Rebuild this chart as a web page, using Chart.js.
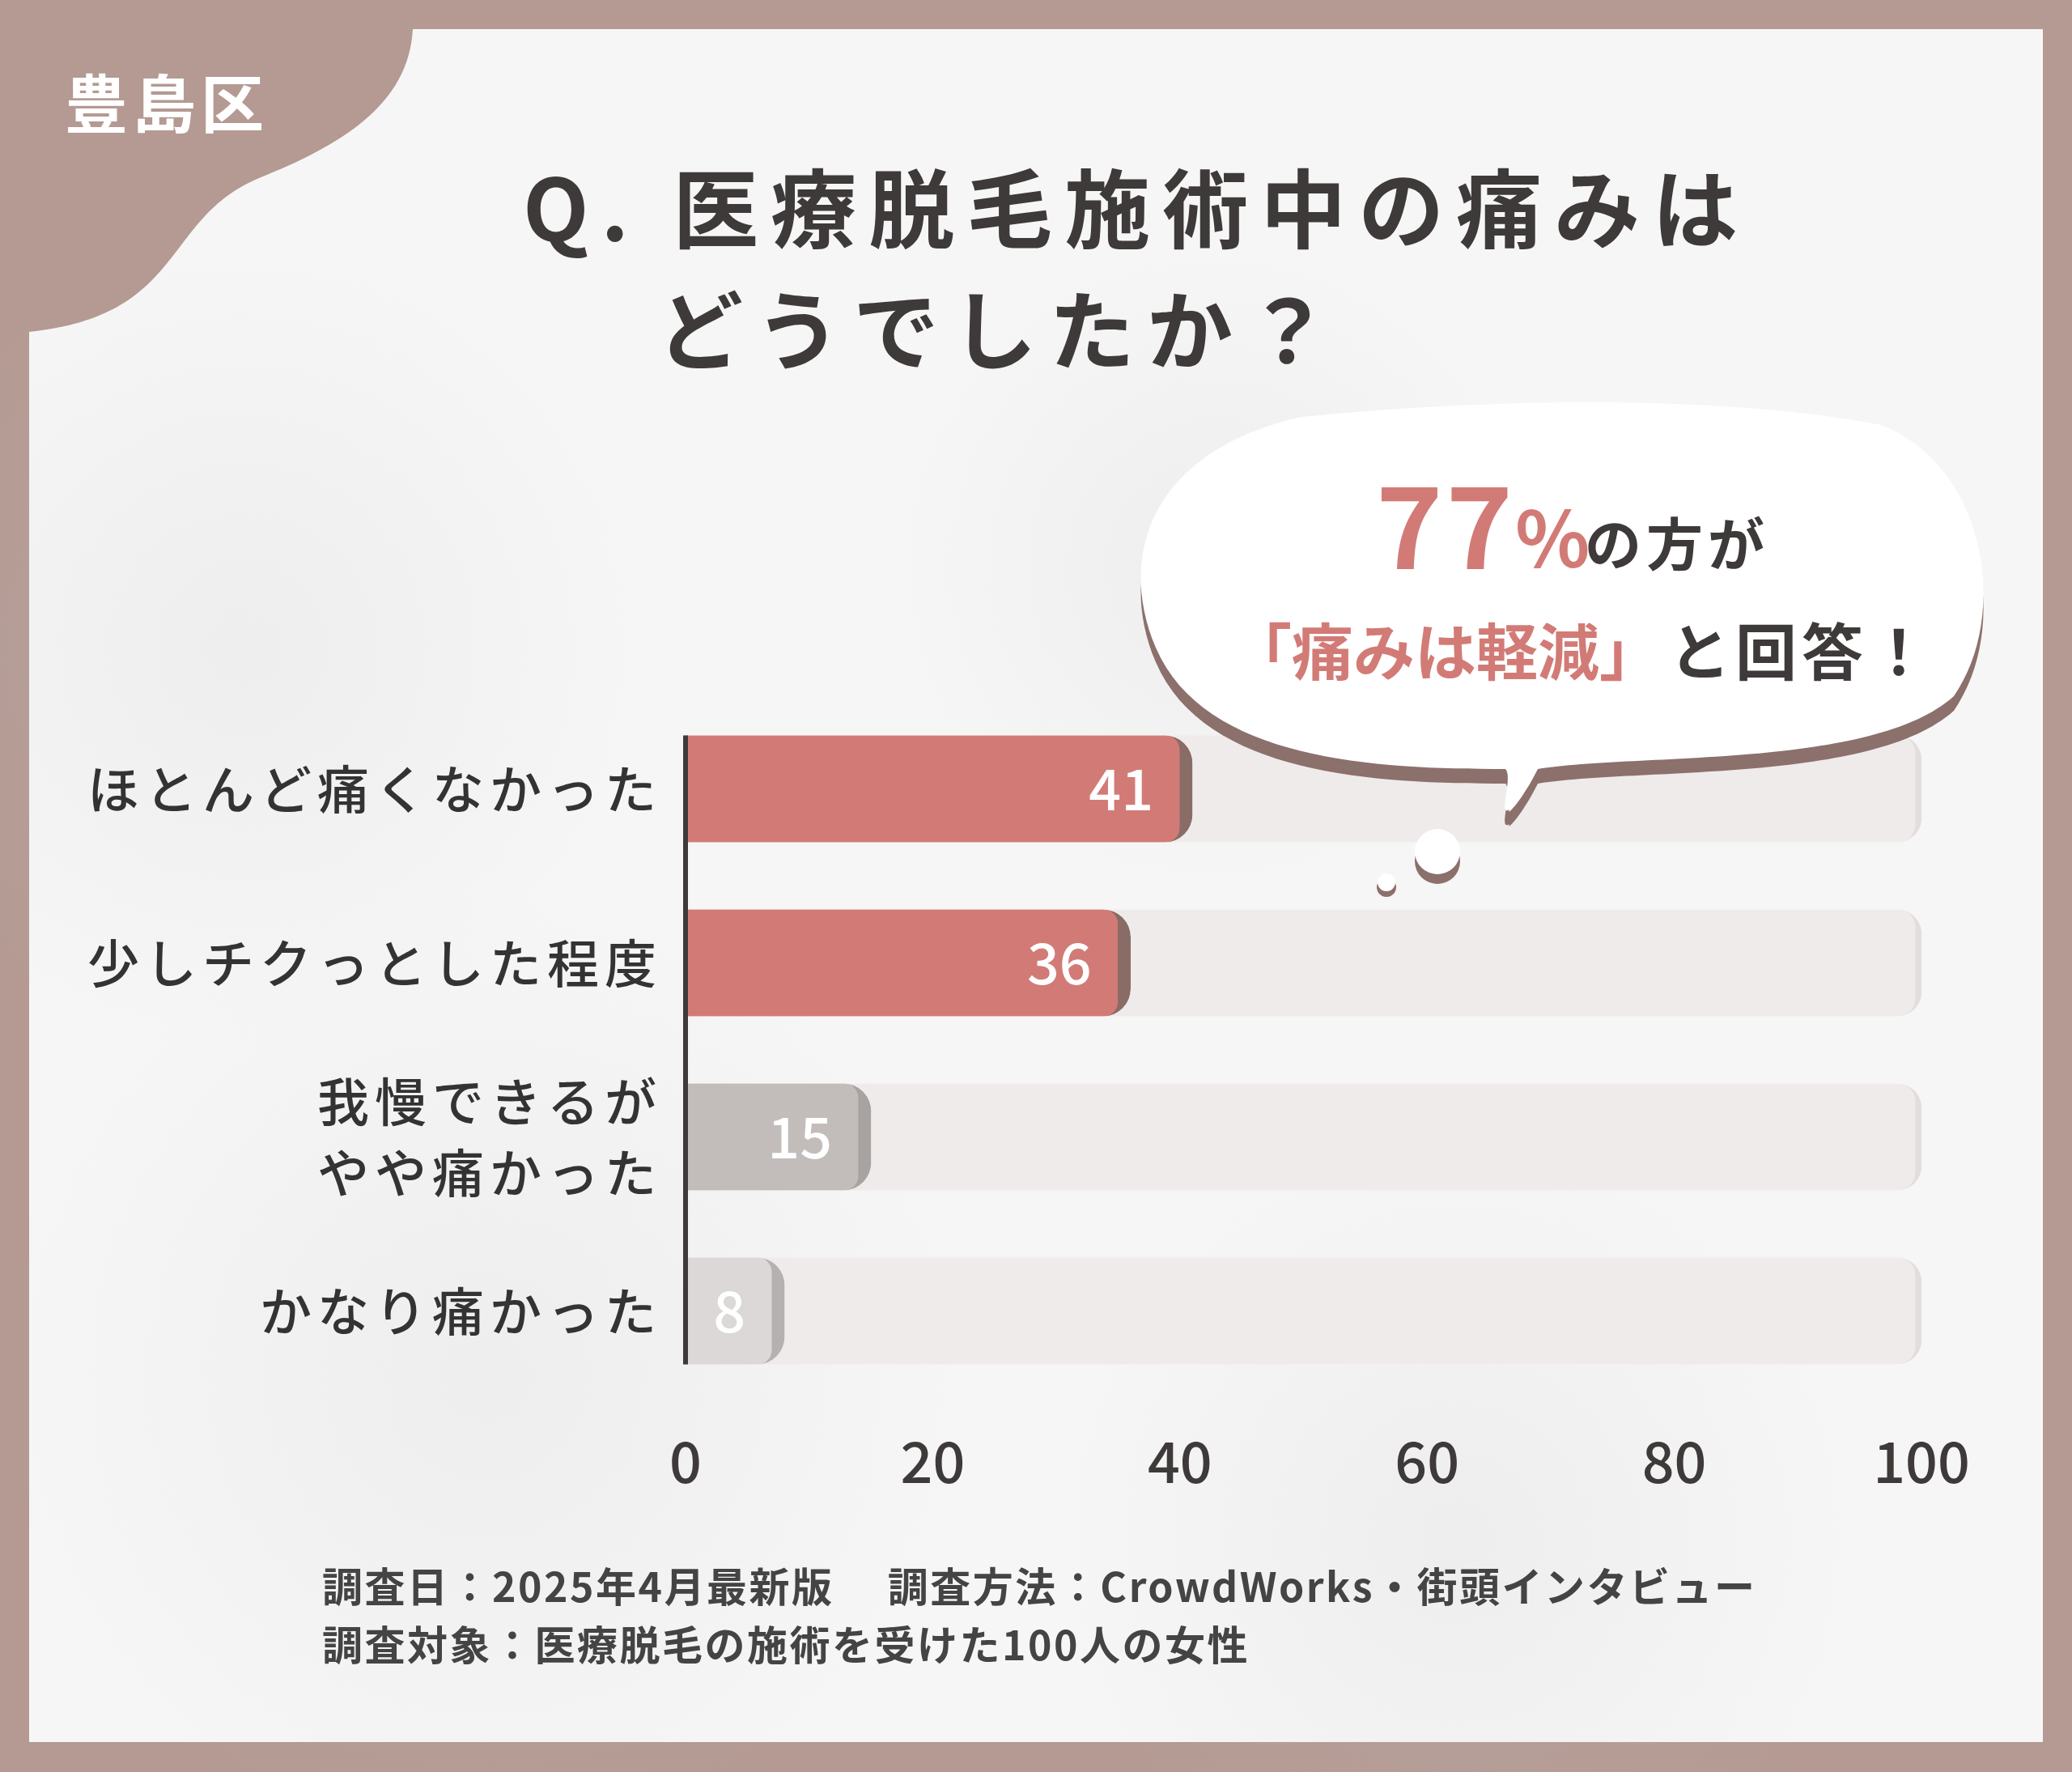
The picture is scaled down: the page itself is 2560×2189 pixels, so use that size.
<!DOCTYPE html>
<html><head><meta charset="utf-8">
<script src="https://cdn.jsdelivr.net/npm/chart.js@4"></script>
<style>html,body{margin:0;padding:0;background:#b49a93}canvas{display:block}</style>
</head><body>
<div style="width:2560px;height:2189px"><canvas id="c"></canvas></div>
<script>
const categories = [["ほとんど痛くなかった"], ["少しチクっとした程度"], ["我慢できるが", "やや痛かった"], ["かなり痛かった"]];
const values = [41, 36, 15, 8];
const maxValues = [100, 100, 100, 100];
const xTicks = [0, 20, 40, 60, 80, 100];
const barColors = ["#d27b76", "#d27b76", "#c2bdbb", "#dbd8d7"];
const edgeColors = ["#8a6c67", "#8a6c67", "#a8a3a1", "#b5b1b0"];
const FONT = '"Noto Sans CJK JP", "Noto Sans", sans-serif';

function txt(ctx, s, x, y, font, color, align, ls) {
  ctx.save(); ctx.font = font; ctx.fillStyle = color; ctx.textAlign = align || 'left';
  ctx.textBaseline = 'middle'; ctx.letterSpacing = (ls || 0) + 'px'; ctx.fillText(s, x, y); ctx.restore();
}

const deco = {
  id: 'deco',
  beforeDraw(chart) {
    const ctx = chart.ctx;
    ctx.save();
    ctx.fillStyle = '#b49a93'; ctx.fillRect(0, 0, 2560, 2189);
    ctx.fillStyle = '#f7f6f6'; ctx.fillRect(36, 36, 2488, 2116);
    const blobs = [[300, 800, 500], [600, 1700, 600], [1800, 1900, 500], [1500, 700, 400]];
    blobs.forEach(b => { const g = ctx.createRadialGradient(b[0], b[1], 0, b[0], b[1], b[2]);
      g.addColorStop(0, 'rgba(200,200,200,0.18)'); g.addColorStop(1, 'rgba(200,200,200,0)');
      ctx.fillStyle = g; ctx.fillRect(b[0]-b[2], b[1]-b[2], b[2]*2, b[2]*2); });
    ctx.fillStyle = '#b49a93'; ctx.beginPath(); ctx.moveTo(36, 36); ctx.lineTo(510, 36);
    ctx.bezierCurveTo(505, 130, 420, 180, 320, 220);
    ctx.bezierCurveTo(200, 270, 230, 390, 36, 410); ctx.closePath(); ctx.fill();
    txt(ctx, '豊島区', 80, 128, 'bold 78px ' + FONT, '#ffffff', 'left', 6);
    txt(ctx, 'Q. 医療脱毛施術中の痛みは', 646, 258, 'bold 106px ' + FONT, '#3d3a39', 'left', 15);
    txt(ctx, 'どうでしたか？', 812, 408, 'bold 106px ' + FONT, '#3d3a39', 'left', 15);
    txt(ctx, '調査日：2025年4月最新版　 調査方法：CrowdWorks・街頭インタビュー', 398, 1960, 'bold 50px ' + FONT, '#444', 'left', 2.5);
    txt(ctx, '調査対象：医療脱毛の施術を受けた100人の女性', 398, 2032, 'bold 50px ' + FONT, '#444', 'left', 2.5);
    const ys = chart.scales.y;
    categories.forEach((lab, i) => {
      const y = ys.getPixelForValue(i);
      const n = lab.length;
      lab.forEach((l, j) => txt(ctx, l, 818, y + (j - (n-1)/2) * 88, '500 64px ' + FONT, '#333', 'right', 7));
    });
    ctx.restore();
  },
  afterDatasetsDraw(chart) {
    const ctx = chart.ctx; const ys = chart.scales.y; const x = chart.scales.x.getPixelForValue(0);
    ctx.save(); ctx.strokeStyle = '#3d3a39'; ctx.lineWidth = 6; ctx.beginPath();
    ctx.moveTo(x, ys.getPixelForValue(0) - 66); ctx.lineTo(x, ys.getPixelForValue(3) + 66); ctx.stroke(); ctx.restore();
  },
  afterDraw(chart) {
    const ctx = chart.ctx; const xs = chart.scales.x, ys = chart.scales.y;
    ctx.save();
    values.forEach((v, i) => {
      txt(ctx, String(v), xs.getPixelForValue(v) - 48, ys.getPixelForValue(i), '500 70px ' + FONT, '#ffffff', 'right', 0);
    });
    const bub = (dy, col) => {
      ctx.fillStyle = col; ctx.beginPath();
      const L = 1408, R = 2474, T = 515 + dy, B = 960 + dy;
      ctx.moveTo(L + 200, T);
      ctx.bezierCurveTo(L + 500, T - 30, R - 300, T - 20, R - 150, T + 10);
      ctx.bezierCurveTo(R - 20, T + 60, R + 10, B - 200, R - 60, B - 100);
      ctx.bezierCurveTo(R - 160, B - 10, R - 450, B - 30, 1900, B - 10);
      ctx.bezierCurveTo(1880, B + 30, 1860, B + 50, 1865, B + 40);
      ctx.bezierCurveTo(1850, B + 50, 1870, B, 1860, B - 10);
      ctx.bezierCurveTo(1700, B - 10, L + 80, B - 20, L + 20, B - 160);
      ctx.bezierCurveTo(L - 30, B - 280, L + 20, T + 40, L + 200, T);
      ctx.closePath(); ctx.fill();
    };
    bub(18, '#8c706b'); bub(0, '#ffffff');
    ctx.fillStyle = '#8c706b';
    ctx.beginPath(); ctx.arc(1776, 1064, 28, 0, Math.PI*2); ctx.fill();
    ctx.beginPath(); ctx.arc(1713, 1096, 12, 0, Math.PI*2); ctx.fill();
    ctx.fillStyle = '#ffffff';
    ctx.beginPath(); ctx.arc(1776, 1052, 28, 0, Math.PI*2); ctx.fill();
    ctx.beginPath(); ctx.arc(1713, 1090, 11, 0, Math.PI*2); ctx.fill();
    txt(ctx, '77', 1700, 650, 'bold 140px ' + FONT, '#d27b76', 'left', 4);
    txt(ctx, '%', 1872, 665, 'bold 96px ' + FONT, '#d27b76', 'left', 0);
    txt(ctx, 'の方が', 1958, 672, 'bold 70px ' + FONT, '#3d3a39', 'left', 6);
    txt(ctx, '「痛みは軽減」', 1520, 805, 'bold 76px ' + FONT, '#d27b76', 'left', 0);
    txt(ctx, 'と回答！', 2062, 805, 'bold 76px ' + FONT, '#3d3a39', 'left', 6);
    ctx.restore();
  }
};

new Chart(document.getElementById('c'), {
  type: 'bar',
  data: {
    labels: categories,
    datasets: [
      { data: values, backgroundColor: barColors, borderColor: edgeColors,
        borderWidth: { right: 16, top: 0, bottom: 0, left: 0 }, borderSkipped: 'left',
        borderRadius: { topRight: 34, bottomRight: 34 }, barThickness: 132, grouped: false },
      { data: maxValues, backgroundColor: '#efebea', borderColor: '#e2dedd',
        borderWidth: { right: 8, top: 0, bottom: 0, left: 0 }, borderSkipped: 'left',
        borderRadius: { topRight: 30, bottomRight: 30 }, barThickness: 132, grouped: false }
    ]
  },
  options: {
    indexAxis: 'y', responsive: true, maintainAspectRatio: false, animation: false,
    devicePixelRatio: 1,
    layout: { padding: { top: 867, right: 186, left: 0, bottom: 0 } },
    plugins: { legend: { display: false }, tooltip: { enabled: false } },
    scales: {
      x: { min: 0, max: 100, grid: { display: false }, border: { display: false },
        afterBuildTicks: s => { s.ticks = xTicks.map(v => ({ value: v })); },
        afterFit: s => { s.height = 462; },
        ticks: { padding: 28, color: '#3d3a39', font: { family: FONT, size: 70, weight: '500' } } },
      y: { grid: { display: false }, border: { display: false },
        ticks: { display: false }, afterFit: s => { s.width = 847; } }
    }
  },
  plugins: [deco]
});
</script>
</body></html>
